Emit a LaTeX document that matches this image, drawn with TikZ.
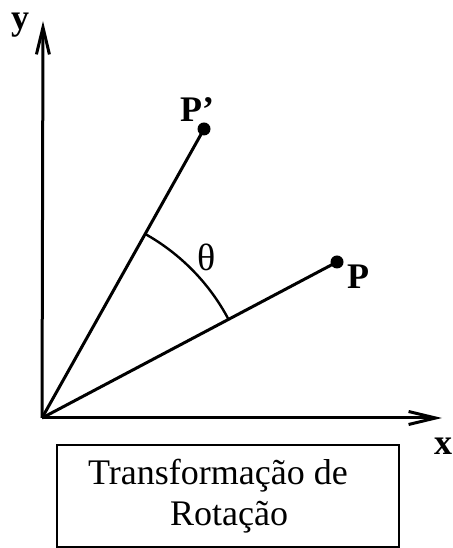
\documentclass[tikz,border=0pt]{standalone}
\usepackage{fontspec}
\setmainfont{Liberation Serif}
\usetikzlibrary{arrows.meta}
\begin{document}
\begin{tikzpicture}[x=1pt,y=1pt,
  axis/.style={line width=3pt,-{Straight Barb[length=27pt,width=13pt,line width=3pt]}},
  ray/.style={line width=3pt},
  ptdot/.style={circle,fill=black,inner sep=0pt,minimum size=13pt},
  lbl/.style={font=\bfseries\fontsize{36}{36}\selectfont,inner sep=0pt},
  boxlbl/.style={draw,line width=2.4pt,font=\fontsize{36}{41}\selectfont,align=center,inner sep=0pt,minimum width=342pt,minimum height=102pt}]
\useasboundingbox (0,0) rectangle (452,548);
\coordinate (O) at (42,130);
\coordinate (Ytip) at (43,527);
\coordinate (Xtip) at (442,130);
\node[ptdot] (Pp) at (204,419) {};
\node[ptdot] (P) at (337,286) {};
\draw[axis] (O) -- (Ytip);
\draw[axis] (O) -- (Xtip);
\draw[ray] (O) -- (Pp.center);
\draw[ray] (O) -- (P.center);
\draw[line width=2.4pt] (O) ++(27.9:211) arc[start angle=27.9,end angle=60.7,radius=211];
\node[lbl] (ylab) at (20,523) {y};
\node[lbl] (xlab) at (443,102) {x};
\node[lbl] (Pplab) at (197,438) {P’};
\node[lbl] (Plab) at (358,271) {P};
\node[font=\fontsize{38}{38}\selectfont,inner sep=0pt] (th) at (207,291) {θ};
\node[boxlbl] (box) at (228,52) {Transformação de\hspace*{20pt}\\ \hspace*{2pt}Rotação};
\end{tikzpicture}
\end{document}
